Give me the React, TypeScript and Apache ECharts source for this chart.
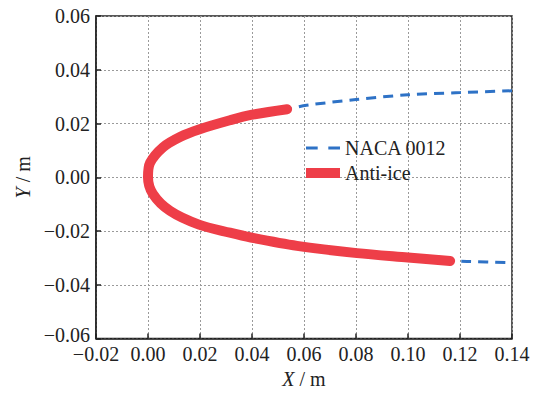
import React, { useEffect, useRef } from "react";
import * as echarts from "echarts";

// NACA 0012 contour: upper surface from x = 0.14 to the leading edge, then lower surface back to x = 0.14
const nacaX = [0.14, 0.12, 0.1, 0.08, 0.061, 0.0535, 0.0396, 0.0315, 0.0196, 0.0123, 0.0058, 0.0008, 0, 0.0019, 0.0085, 0.0196, 0.0315, 0.0396, 0.0573, 0.0804, 0.1, 0.1162, 0.1227, 0.14];
const nacaY = [0.0322, 0.0315, 0.0307, 0.0289, 0.0268, 0.0253, 0.0232, 0.0212, 0.0178, 0.0150, 0.0112, 0.0054, 0, -0.0062, -0.0125, -0.0176, -0.0206, -0.0224, -0.0255, -0.0282, -0.0298, -0.0311, -0.0313, -0.0318];

// Heated (anti-ice) region along the leading edge
const antiIceX = [0.0535, 0.0396, 0.0315, 0.0196, 0.0123, 0.0058, 0.0008, 0, 0.0019, 0.0085, 0.0196, 0.0315, 0.0396, 0.0573, 0.0804, 0.1, 0.1162];
const antiIceY = [0.0253, 0.0232, 0.0212, 0.0178, 0.0150, 0.0112, 0.0054, 0, -0.0062, -0.0125, -0.0176, -0.0206, -0.0224, -0.0255, -0.0282, -0.0298, -0.0311];

const seriesNames = ["NACA 0012", "Anti-ice"];
const xTicks = { min: -0.02, max: 0.14, step: 0.02 };
const yTicks = { min: -0.06, max: 0.06, step: 0.02 };

const FONT = "'Liberation Serif', 'Times New Roman', serif";
const INK = "#222";
const FS = 20;

const fmt = (v: number) => {
  const s = Math.abs(v).toFixed(2);
  return v < -1e-9 ? "\u2212" + s : s;
};

export default function App() {
  const ref = useRef<HTMLDivElement>(null);

  useEffect(() => {
    if (!ref.current) return;
    const chart = echarts.init(ref.current, undefined, { renderer: "svg" });

    const pairs = (xs: number[], ys: number[]) => xs.map((x, i) => [x, ys[i]]);

    const gridLine = { show: true, lineStyle: { color: "#9a9a9a", type: [2, 2] as any, width: 1 } };
    const nameRich = {
      i: { fontFamily: FONT, fontSize: FS, fontStyle: "italic", color: INK },
      n: { fontFamily: FONT, fontSize: FS, color: INK },
    };

    chart.setOption({
      animation: false,
      backgroundColor: "#fff",
      textStyle: { fontFamily: FONT },
      grid: {
        left: 96,
        right: 25,
        top: 16,
        bottom: 46,
        show: true,
        borderColor: INK,
        borderWidth: 1.5,
        backgroundColor: "transparent",
      },
      legend: {
        left: 301,
        top: 133,
        orient: "vertical",
        itemWidth: 34,
        itemHeight: 10,
        itemGap: 5,
        textStyle: { fontFamily: FONT, fontSize: FS, color: INK },
        data: [
          {
            name: seriesNames[0],
            icon: "path://M0,4h11v3h-11z M21,4h11v3h-11z",
          },
          { name: seriesNames[1], icon: "rect", itemStyle: { color: "#EE3E48" } },
        ],
      },
      xAxis: {
        type: "value",
        min: xTicks.min,
        max: xTicks.max,
        interval: xTicks.step,
        axisLine: { show: true, onZero: false, lineStyle: { color: INK, width: 1.5 } },
        axisTick: { show: true, inside: true, length: 5, lineStyle: { color: INK, width: 1.5 } },
        axisLabel: {
          color: INK,
          fontFamily: FONT,
          fontSize: FS,
          lineHeight: 15,
          margin: 8,
          formatter: fmt,
        },
        splitLine: gridLine,
        name: "{i|X}{n| / m}",
        nameLocation: "middle",
        nameGap: 26,
        nameTextStyle: { rich: nameRich },
      },
      yAxis: {
        type: "value",
        min: yTicks.min,
        max: yTicks.max,
        interval: yTicks.step,
        axisLine: { show: true, onZero: false, lineStyle: { color: INK, width: 1.5 } },
        axisTick: { show: true, inside: true, length: 5, lineStyle: { color: INK, width: 1.5 } },
        axisLabel: {
          color: INK,
          fontFamily: FONT,
          fontSize: FS,
          lineHeight: 15,
          margin: 6,
          // the bottom label sits a little above its tick, clear of the x labels
          formatter: (v: number) =>
            Math.abs(v - yTicks.min) < 1e-9 ? `{lo|${fmt(v)}}` : fmt(v),
          rich: {
            lo: {
              fontFamily: FONT,
              fontSize: FS,
              color: INK,
              lineHeight: 15,
              padding: [0, 0, 8, 0],
            },
          },
        },
        splitLine: gridLine,
        name: "{i|Y}{n| / m}",
        nameLocation: "middle",
        nameGap: 60,
        nameTextStyle: { rich: nameRich },
      },
      series: [
        {
          name: seriesNames[0],
          type: "line",
          data: pairs(nacaX, nacaY),
          smooth: 0.3,
          showSymbol: false,
          symbol: "none",
          color: "#2E72C6",
          lineStyle: { color: "#2E72C6", width: 3, type: [10, 7] },
          z: 2,
        },
        {
          name: seriesNames[1],
          type: "line",
          data: pairs(antiIceX, antiIceY),
          smooth: 0.3,
          showSymbol: false,
          symbol: "none",
          color: "#EE3E48",
          lineStyle: { color: "#EE3E48", width: 10, cap: "round", join: "round" },
          z: 3,
        },
      ],
    });

    return () => chart.dispose();
  }, []);

  return (
    <div
      ref={ref}
      style={{ position: "fixed", left: 0, top: 0, width: 537, height: 394, background: "#fff" }}
    />
  );
}
